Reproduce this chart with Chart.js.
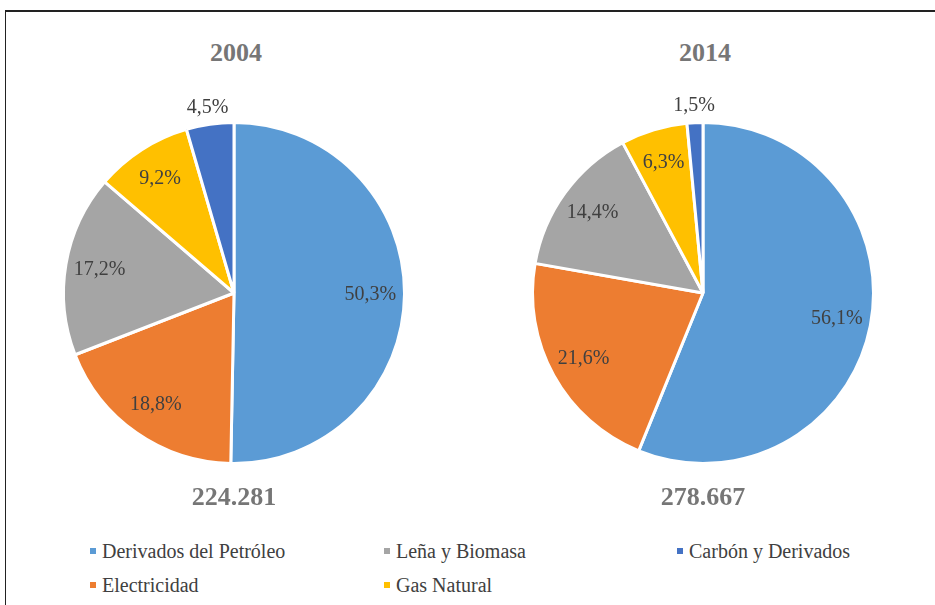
<!DOCTYPE html>
<html>
<head>
<meta charset="utf-8">
<script src="https://cdn.jsdelivr.net/npm/chart.js@4/dist/chart.umd.min.js"></script>
<style>
  html, body { margin: 0; padding: 0; background: #fff; }
  body { width: 935px; height: 605px; position: relative; overflow: hidden; font-family: "Liberation Serif", "DejaVu Serif", serif; }
  .frame { position: absolute; left: 5px; top: 10px; width: 940px; height: 610px; border-top: 2px solid #222; border-left: 1.5px solid #222; }
  canvas { position: absolute; top: 93px; }
  .big { position: absolute; width: 200px; text-align: center; font-weight: bold; font-size: 26px; line-height: 26px; color: #767676; }
  .legend { position: absolute; font-size: 20px; line-height: 20px; color: #404040; white-space: nowrap; }
  .legend i { display: inline-block; width: 6px; height: 6px; margin-right: 6px; vertical-align: 4px; }
</style>
</head>
<body>
<div class="frame"></div>
<canvas id="pie2004" width="400" height="400" style="left:34px"></canvas>
<canvas id="pie2014" width="400" height="400" style="left:503px"></canvas>
<div id="labels"></div>
<script>
const categories = ['Derivados del Petróleo', 'Electricidad', 'Leña y Biomasa', 'Gas Natural', 'Carbón y Derivados'];
const colors = ['#5B9BD5', '#ED7D31', '#A5A5A5', '#FFC000', '#4472C4'];
const years = ['2004', '2014'];
const totals = ['224.281', '278.667'];
const shares2004 = [50.3, 18.8, 17.2, 9.2, 4.5];
const shares2014 = [56.1, 21.6, 14.4, 6.3, 1.5];
// legend order as in the picture (3 columns)
const legendOrder = [0, 2, 4, 1, 3];

// percent labels, inside the slice or just outside for the small ones
const pctLabels = {
    id: 'pctLabels',
    afterDatasetsDraw(chart) {
        const { ctx } = chart;
        const meta = chart.getDatasetMeta(0);
        const values = chart.data.datasets[0].data;
        ctx.save();
        ctx.font = '20px "Liberation Serif", "DejaVu Serif", serif';
        ctx.fillStyle = '#404040';
        ctx.textAlign = 'center';
        ctx.textBaseline = 'middle';
        meta.data.forEach((arc, i) => {
            const mid = (arc.startAngle + arc.endAngle) / 2;
            const r = values[i] < 5 ? arc.outerRadius + 17 : arc.outerRadius * 0.8;
            const txt = values[i].toFixed(1).replace('.', ',') + '%';
            ctx.fillText(txt, arc.x + Math.cos(mid) * r, arc.y + Math.sin(mid) * r);
        });
        ctx.restore();
    },
};

function makePie(id, values) {
    return new Chart(document.getElementById(id), {
        type: 'pie',
        data: {
            labels: categories,
            datasets: [{ data: values, backgroundColor: colors, borderColor: '#fff', borderWidth: 3 }],
        },
        options: {
            responsive: false,
            animation: false,
            layout: { padding: 28 },
            plugins: { legend: { display: false }, tooltip: { enabled: false } },
        },
        plugins: [pctLabels],
    });
}

makePie('pie2004', shares2004);
makePie('pie2014', shares2014);

// titles and totals
const holder = document.getElementById('labels');
const centers = [236, 705];
years.forEach((y, i) => {
    const t = document.createElement('div');
    t.className = 'big';
    t.style.left = (centers[i] - 100) + 'px';
    t.style.top = '40px';
    t.textContent = y;
    holder.appendChild(t);
    const s = document.createElement('div');
    s.className = 'big';
    s.style.left = (centers[i] - 102) + 'px';
    s.style.top = '484px';
    s.textContent = totals[i];
    holder.appendChild(s);
});

// legend
const legX = [90, 384, 677];
const legY = [541, 575];
legendOrder.forEach((c, k) => {
    const d = document.createElement('div');
    d.className = 'legend';
    d.style.left = legX[k % 3] + 'px';
    d.style.top = legY[Math.floor(k / 3)] + 'px';
    d.innerHTML = '<i style="background:' + colors[c] + '"></i>';
    d.appendChild(document.createTextNode(categories[c]));
    holder.appendChild(d);
});
</script>
</body>
</html>
